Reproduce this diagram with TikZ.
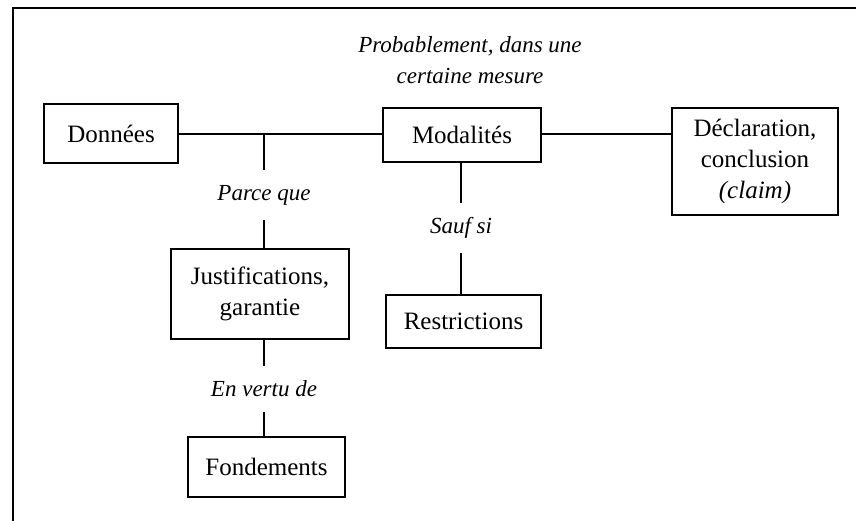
\documentclass[tikz,border=0pt]{standalone}
\usepackage{fontspec}
\setmainfont{Liberation Serif}
\begin{document}
\begin{tikzpicture}[x=1pt,y=-1pt,
  box/.style={draw,line width=2pt,inner sep=0pt,align=center,
    font=\fontsize{25}{31}\selectfont},
  lbl/.style={inner sep=0pt,align=center,
    font=\fontsize{23}{31}\selectfont\itshape},
  link/.style={line width=2pt}]
  \useasboundingbox (0,0) rectangle (856,520);
  % outer frame, running past the page on the right and bottom
  \draw[line width=2.5pt] (13,525) -- (13,8) -- (861,8);

  % boxes
  \node[box,minimum width=134pt,minimum height=59pt] (donnees) at (111,133.5) {Données};
  \node[box,minimum width=158pt,minimum height=54pt] (modal) at (462,135) {Modalités};
  \node[box,minimum width=166pt,minimum height=107pt] (claim) at (755,161.5)
    {Déclaration,\\conclusion\\\textit{(claim)}};
  \node[box,minimum width=178pt,minimum height=90pt] (justif) at (260,294)
    {Justifications,\\garantie};
  \node[box,minimum width=155pt,minimum height=53pt] (restr) at (463.5,321.5) {Restrictions};
  \node[box,minimum width=157pt,minimum height=60pt] (fond) at (266.5,467) {Fondements};

  % labels
  \node[lbl] (proba) at (470,60) {Probablement, dans une\\certaine mesure};
  \node[lbl,minimum height=50pt] (parce) at (264,195) {Parce que};
  \node[lbl,minimum height=50pt] (sauf) at (461,228) {Sauf si};
  \node[lbl,minimum height=46pt] (vertu) at (264,389) {En vertu de};

  % connectors
  \coordinate (branch) at (parce.north |- donnees.east);
  \draw[link] (donnees.east) -- (donnees.east -| modal.west);
  \draw[link] (modal.east |- donnees.east) -- (claim.west |- donnees.east);
  \draw[link] (branch) -- (parce.north);
  \draw[link] (parce.south) -- (parce.south |- justif.north);
  \draw[link] (sauf.north |- modal.south) -- (sauf.north);
  \draw[link] (sauf.south) -- (sauf.south |- restr.north);
  \draw[link] (vertu.north |- justif.south) -- (vertu.north);
  \draw[link] (vertu.south) -- (vertu.south |- fond.north);
\end{tikzpicture}
\end{document}
